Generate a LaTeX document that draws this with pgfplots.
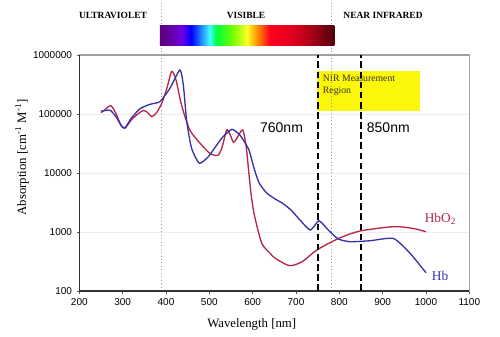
\documentclass[border=0pt]{standalone}
\usepackage{fontspec}
\setmainfont{Liberation Serif}
\setsansfont{Liberation Sans}
\usepackage{pgfplots}
\pgfplotsset{compat=1.18}
\definecolor{hbred}{RGB}{180,40,70}
\definecolor{hbblue}{RGB}{55,50,170}
\definecolor{nirY}{RGB}{252,246,10}
\definecolor{sa}{RGB}{92,0,128}
\definecolor{sb}{RGB}{100,0,160}
\definecolor{sc}{RGB}{110,0,230}
\definecolor{sd}{RGB}{0,0,255}
\definecolor{se}{RGB}{40,140,255}
\definecolor{sf}{RGB}{60,255,255}
\definecolor{sg}{RGB}{0,255,60}
\definecolor{sh}{RGB}{120,255,0}
\definecolor{si}{RGB}{255,255,40}
\definecolor{sj}{RGB}{255,150,0}
\definecolor{sk}{RGB}{255,0,30}
\definecolor{sl}{RGB}{220,0,30}
\definecolor{sm}{RGB}{160,0,20}
\definecolor{sn}{RGB}{80,0,10}
\pgfdeclarehorizontalshading{spectrum}{100bp}{color(0bp)=(sa); color(25bp)=(sa); color(28bp)=(sb); color(31.3bp)=(sc); color(34bp)=(sd); color(37bp)=(se); color(39.25bp)=(sf); color(41.3bp)=(sg); color(46bp)=(sh); color(50bp)=(si); color(52.75bp)=(sj); color(56.5bp)=(sk); color(63.5bp)=(sl); color(69bp)=(sm); color(75bp)=(sn); color(100bp)=(sn)}
\begin{document}
\begin{tikzpicture}
\useasboundingbox (-59.5pt,-33.75pt) rectangle (315.5pt,218.25pt);
\begin{axis}[
  at={(0,0)}, anchor=south west,
  width=292.5pt, height=177pt, scale only axis,
  xmin=200, xmax=1100, ymode=log, ymin=100, ymax=1000000,
  xtick={200,300,...,1100},
  ytick={100,1000,10000,100000,1000000},
  yticklabels={100,1000,10000,100000,1000000},
  yminorticks=false,
  /pgf/number format/1000 sep={},
  /pgf/number format/assume math mode=true,
  ticklabel style={font=\fontsize{7.5}{9}\sffamily},
  tick pos=left, tick align=outside, major tick length=2pt,
  tick style={gray!70!black, line width=0.6pt},
  ymajorgrids, grid style={gray!15, line width=0.5pt},
  axis line style={gray!75, line width=0.8pt},
  clip=false,
]
% yellow box
\fill[nirY] (rel axis cs:0.6087,0.7627) rectangle (rel axis cs:0.8736,0.9335);
\node[anchor=north west, align=left, inner sep=0pt, font=\fontsize{7.3}{8.7}\selectfont, text=black!80!olive] at (rel axis cs:0.624,0.915) {NIR Measurement\\Region};
% dotted region borders
\draw[gray!80, dotted, line width=0.6pt] (rel axis cs:0.2111,0) -- (rel axis cs:0.2111,1.22);
\draw[gray!80, dotted, line width=0.6pt] (rel axis cs:0.6456,0) -- (rel axis cs:0.6456,1.22);
% spectrum bar
\shade[shading=spectrum] (rel axis cs:0.2062,1.042) rectangle (rel axis cs:0.654,1.123);
% region labels
\node[font=\fontsize{7.1}{8}\selectfont\bfseries] at (rel axis cs:0.0864,1.169) {ULTRAVIOLET};
\node[font=\fontsize{7.1}{8}\selectfont\bfseries] at (rel axis cs:0.4274,1.169) {VISIBLE};
\node[font=\fontsize{7.1}{8}\selectfont\bfseries] at (rel axis cs:0.7787,1.169) {NEAR INFRARED};
% darker left/bottom axis
\draw[gray!40!black, line width=0.9pt] (rel axis cs:0,1) -- (rel axis cs:0,0) -- (rel axis cs:1,0);
% HbO2
\addplot[hbred, line width=1pt, smooth, tension=0.45] coordinates {
(250,105000) (260,120000) (273,138000) (285,100000) (295,67600) (305,57500)
(320,79400) (335,100000) (348,115000) (358,105000) (367,90200) (378,105000)
(390,151000) (402,272000) (413,525000) (423,380000) (436,141000) (455,53700)
(482,29900) (502,21400) (520,20000) (530,28200) (540,53700) (548,44700)
(556,33100) (566,41700) (577,53700) (585,28200) (592,8700) (598,3550)
(605,1780) (621,646) (640,437) (652,359) (685,269) (715,316) (748,495)
(798,776) (848,1040) (925,1230) (970,1150) (1000,1010)
};
% Hb
\addplot[hbblue, line width=1pt, smooth, tension=0.35] coordinates {
(250,112000) (262,115000) (272,115000) (285,89000) (297,63000) (305,57500)
(320,85000) (340,123000) (363,146000) (386,162000) (409,272000) (432,557000)
(440,309000) (448,74000) (459,26300) (477,14600) (498,19000) (509,24500)
(530,40000) (552,55000) (571,43700) (590,26000) (596,19000) (602,12900)
(608,9300) (614,7000) (621,5800) (632,4600) (650,3700) (671,3000)
(690,2300) (709,1600) (733,1080) (753,1550) (775,1070)
(798,760) (825,685) (870,710) (925,776) (963,437) (1000,204)
};
% dashed measurement lines
\draw[black, line width=1.6pt, dash pattern=on 5pt off 2.6pt] (axis cs:750,100) -- (axis cs:750,1000000);
\draw[black, line width=1.6pt, dash pattern=on 5pt off 2.6pt] (axis cs:850,100) -- (axis cs:850,1000000);
% wavelength labels
\node[font=\fontsize{10.5}{12}\sffamily] at (rel axis cs:0.5185,0.6907) {760nm};
\node[font=\fontsize{10.5}{12}\sffamily] at (rel axis cs:0.7923,0.6907) {850nm};
% curve labels
\node[text=hbred, font=\fontsize{10}{12}\selectfont] at (rel axis cs:0.926,0.305) {HbO\textsubscript{2}};
\node[text=hbblue, font=\fontsize{10}{12}\selectfont] at (rel axis cs:0.925,0.0636) {Hb};
% axis titles
\node[font=\fontsize{9.6}{11}\selectfont] at (rel axis cs:0.442,-0.14) {Wavelength [nm]};
\node[rotate=90, font=\fontsize{9.6}{11}\selectfont] at (rel axis cs:-0.147,0.566) {Absorption [cm\textsuperscript{-1} M\textsuperscript{-1}]};
\end{axis}
\end{tikzpicture}
\end{document}
